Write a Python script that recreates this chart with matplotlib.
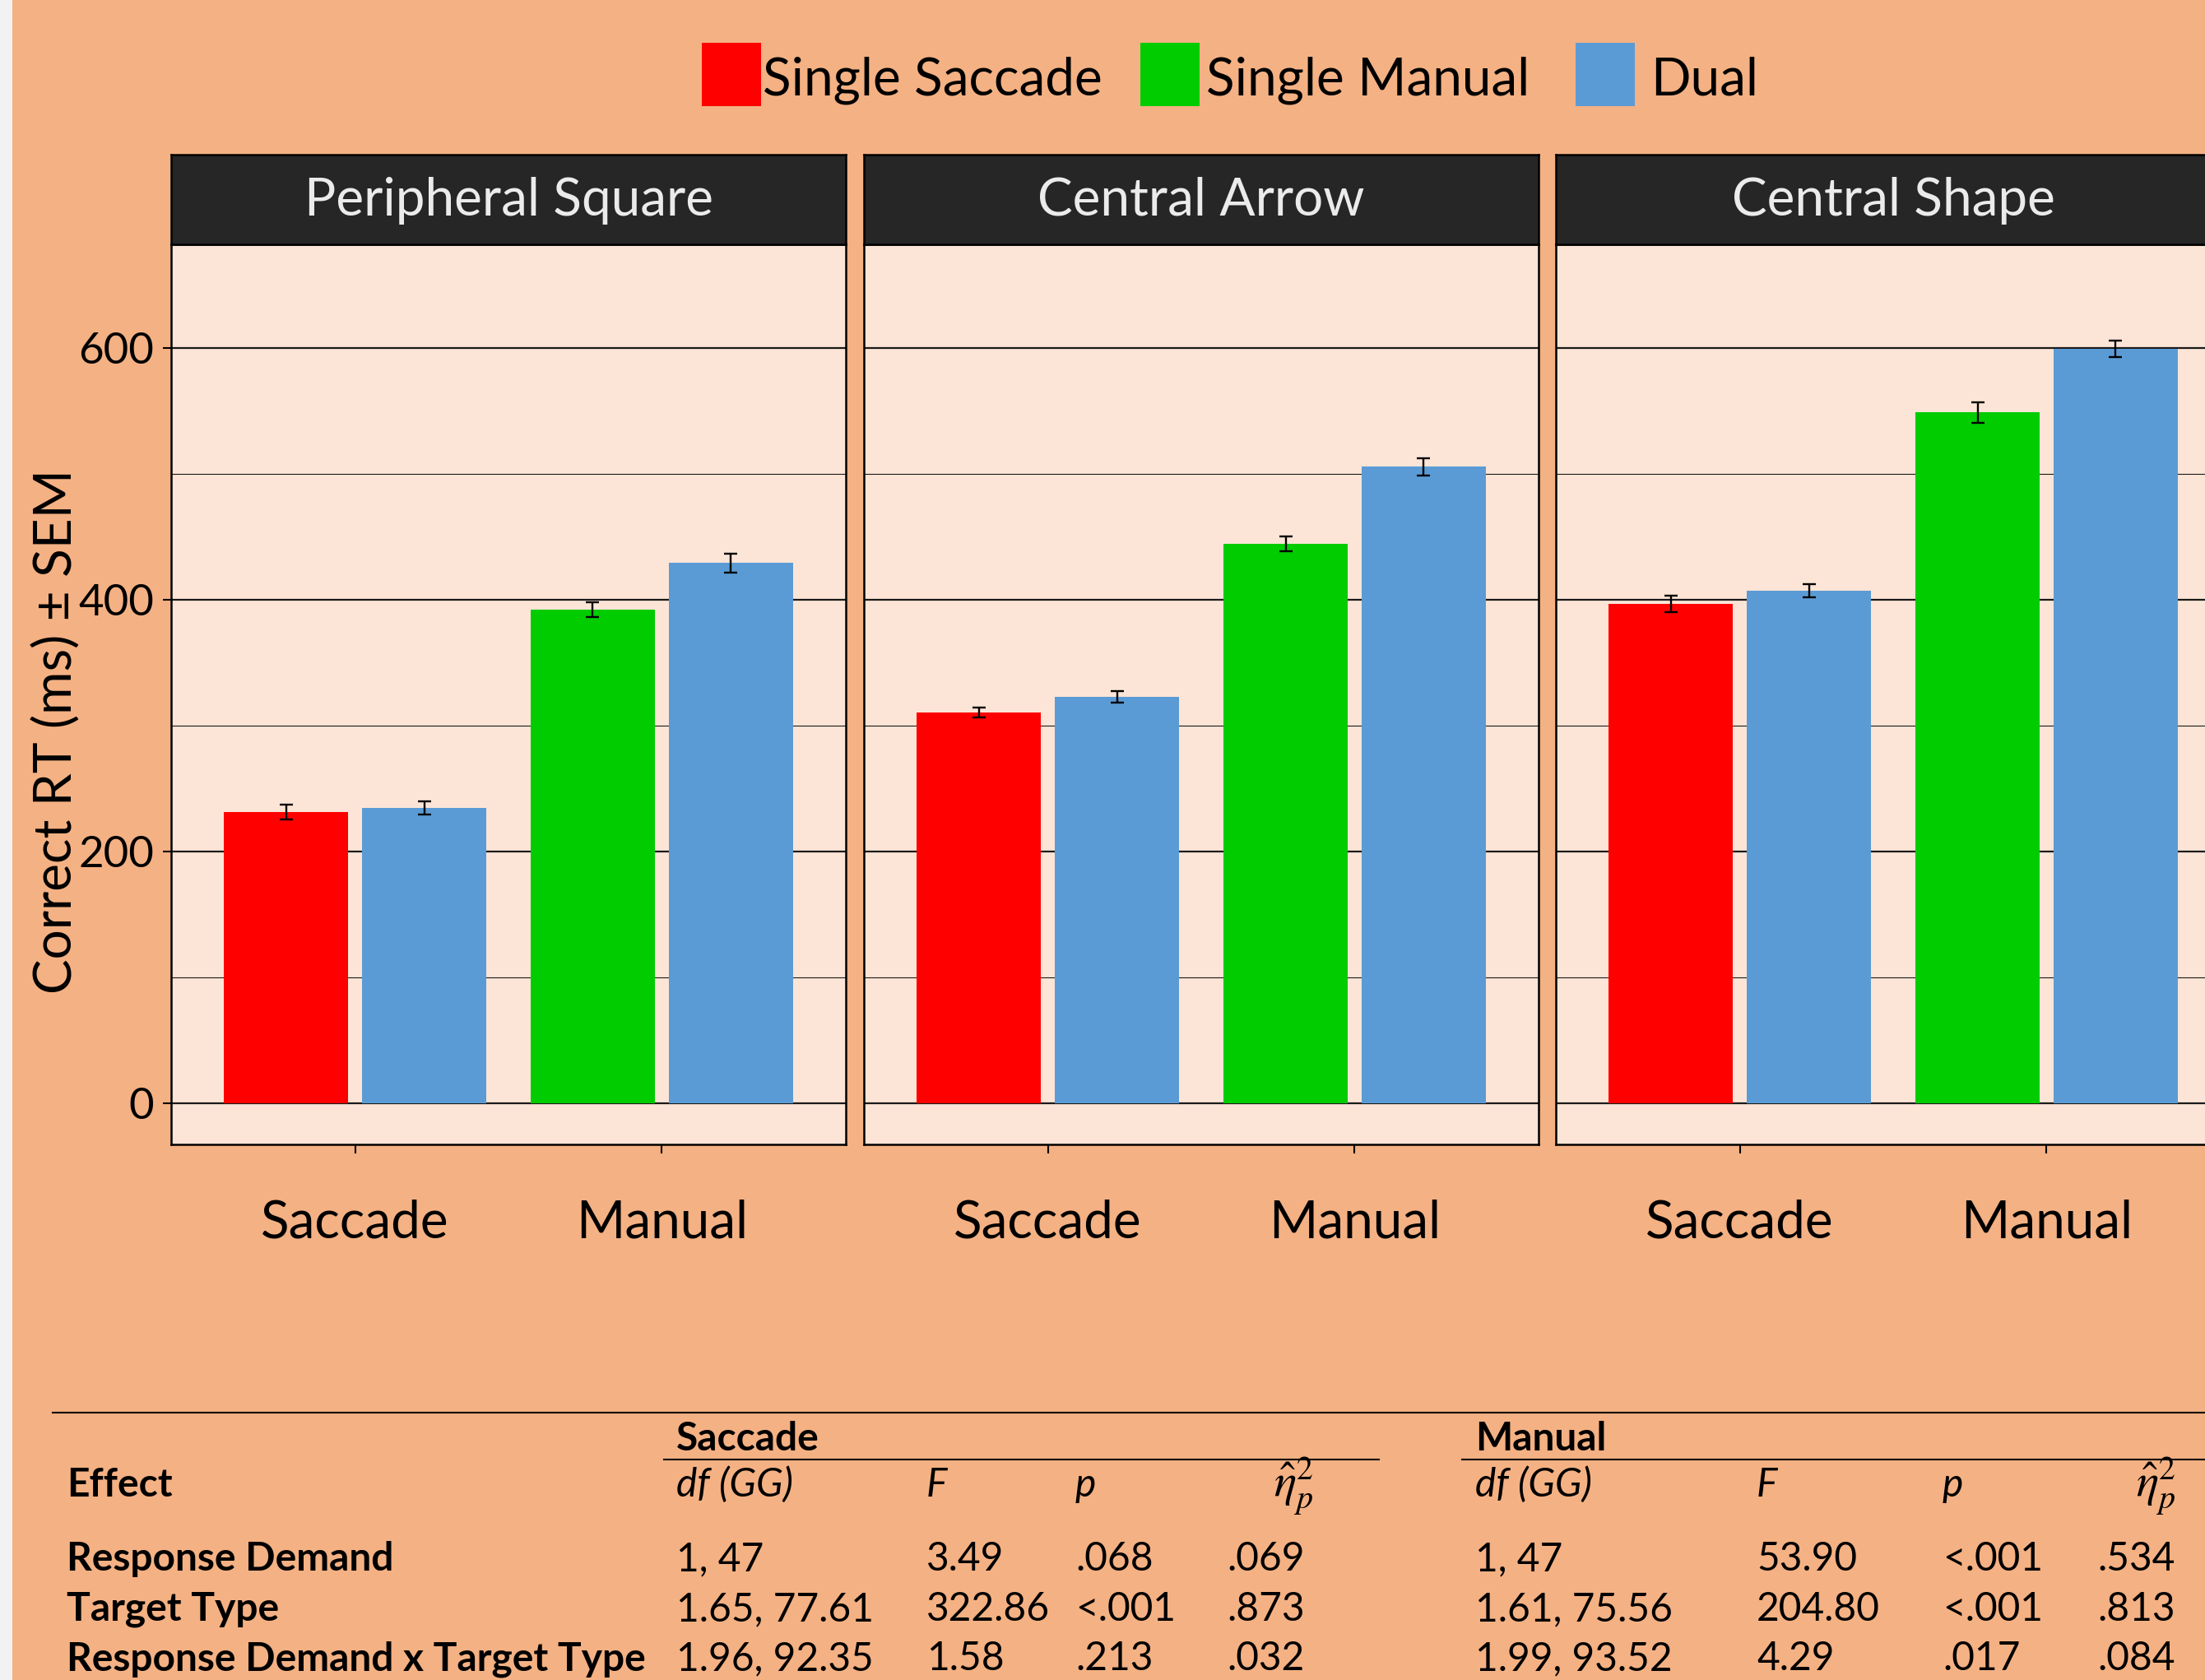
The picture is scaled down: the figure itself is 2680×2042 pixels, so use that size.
import numpy as np
import matplotlib
matplotlib.use("Agg")
import matplotlib.pyplot as plt
from matplotlib.patches import Rectangle
from matplotlib.lines import Line2D

plt.rcParams['font.family'] = ['Lato', 'DejaVu Sans']
plt.rcParams['mathtext.fontset'] = 'stix'

# reaction times (ms) and SEM per target type, order: saccade, manual
targets = ['Peripheral Square', 'Central Arrow', 'Central Shape']
responses = ['Saccade', 'Manual']
single_rt = [[231.6, 392.2], [310.6, 444.6], [396.9, 549.0]]
single_sem = [[5.7, 6.0], [3.8, 5.7], [6.5, 8.2]]
dual_rt = [[234.8, 429.4], [323.0, 505.9], [407.4, 599.3]]
dual_sem = [[5.4, 7.5], [4.5, 6.9], [5.4, 6.5]]

legend_labels = ['Single Saccade', 'Single Manual', 'Dual']
col_saccade = '#FF0000'
col_manual = '#00CC00'
col_dual = '#5B9BD5'

# ANOVA table
effects = ['Response Demand', 'Target Type', 'Response Demand x Target Type']
sac_df = ['1, 47', '1.65, 77.61', '1.96, 92.35']
sac_F = ['3.49', '322.86', '1.58']
sac_p = ['.068', '<.001', '.213']
sac_eta = ['.069', '.873', '.032']
man_df = ['1, 47', '1.61, 75.56', '1.99, 93.52']
man_F = ['53.90', '204.80', '4.29']
man_p = ['<.001', '<.001', '.017']
man_eta = ['.534', '.813', '.084']

W, H = 2680, 2042
BG = '#F4B183'
PANEL = '#FCE5D6'


def fx(px):
    return px / W


def fy(py):
    return 1 - py / H


fig = plt.figure(figsize=(W / 100, H / 100), dpi=100, facecolor=BG)
fig.add_artist(Rectangle((0, 0), fx(15), 1, transform=fig.transFigure,
                         facecolor='#F2F2F2', edgecolor='none'))

# legend
leg_cols = [col_saccade, col_manual, col_dual]
leg_box_x = [853, 1386, 1915]
leg_txt_x = [927, 1466, 2006]
for lab, c, bx, tx in zip(legend_labels, leg_cols, leg_box_x, leg_txt_x):
    fig.add_artist(Rectangle((fx(bx), fy(129)), 72 / W, 77 / H,
                             transform=fig.transFigure, facecolor=c, edgecolor='none'))
    fig.text(fx(tx), fy(115), lab, fontsize=46, ha='left', va='baseline')

panel_left = [208, 1050, 1891]
pw = 820
x = np.arange(1, 3)
off = 0.225
bw = 0.404

for i, (name, left) in enumerate(zip(targets, panel_left)):
    ax = fig.add_axes([fx(left), fy(1391), pw / W, 1094 / H])
    ax.set_facecolor(PANEL)
    ax.set_xlim(0.4, 2.6)
    ax.set_ylim(-32.5, 682.5)
    ax.set_axisbelow(True)
    ax.set_yticks([0, 200, 400, 600])
    ax.set_yticks([100, 300, 500], minor=True)
    ax.grid(which='major', axis='y', color='#1A1A1A', lw=1.6)
    ax.grid(which='minor', axis='y', color='#1A1A1A', lw=0.8)
    ax.tick_params(which='minor', length=0)

    single_cols = [col_saccade, col_manual]
    ax.bar(x - off, single_rt[i], width=bw, color=single_cols, zorder=2)
    ax.bar(x + off, dual_rt[i], width=bw, color=col_dual, zorder=2)
    ax.errorbar(x - off, single_rt[i], yerr=single_sem[i], fmt='none', ecolor='black',
                elinewidth=1.7, capsize=6, capthick=1.7, zorder=3)
    ax.errorbar(x + off, dual_rt[i], yerr=dual_sem[i], fmt='none', ecolor='black',
                elinewidth=1.7, capsize=6, capthick=1.7, zorder=3)

    ax.set_xticks(x)
    ax.set_xticklabels(responses)
    ax.tick_params(axis='x', length=8, width=1.5, pad=40, labelsize=46)
    if i == 0:
        ax.tick_params(axis='y', which='major', length=7.2, width=1.5, pad=8, labelsize=38)
    else:
        ax.tick_params(axis='y', which='major', length=0, labelleft=False)
    for s in ax.spines.values():
        s.set_linewidth(1.8)
        s.set_color('black')

    sax = fig.add_axes([fx(left), fy(297), pw / W, 109 / H])
    sax.set_facecolor('#262626')
    sax.set_xticks([])
    sax.set_yticks([])
    for s in sax.spines.values():
        s.set_linewidth(1.8)
        s.set_color('black')
    sax.text(0.5, 1 - (262 - 188) / 109, name, transform=sax.transAxes, ha='center',
             va='baseline', fontsize=46, color='#EBEBEB')

fig.text(fx(69), fy(889), 'Correct RT (ms) ± SEM', rotation=90, ha='center',
         va='center', fontsize=46)

# table
fig.add_artist(Line2D([fx(64), 1], [fy(1717), fy(1717)], color='black', lw=1.5,
                      transform=fig.transFigure))
fig.add_artist(Line2D([fx(807), fx(1676)], [fy(1774), fy(1774)], color='black', lw=1.5,
                      transform=fig.transFigure))
fig.add_artist(Line2D([fx(1777), 1], [fy(1774), fy(1774)], color='black', lw=1.5,
                      transform=fig.transFigure))

fs = 34.5
fig.text(fx(822), fy(1763), 'Saccade', fontsize=fs, weight='bold', va='baseline')
fig.text(fx(1793), fy(1763), 'Manual', fontsize=fs, weight='bold', va='baseline')
fig.text(fx(81), fy(1819), 'Effect', fontsize=fs, weight='bold', va='baseline')

head_x = [[822, 1126, 1307, 1548], [1793, 2135, 2361, 2596]]
for hx in head_x:
    fig.text(fx(hx[0]), fy(1819), 'df (GG)', fontsize=fs, style='italic', va='baseline')
    fig.text(fx(hx[1]), fy(1819), 'F', fontsize=fs, style='italic', va='baseline')
    fig.text(fx(hx[2]), fy(1819), 'p', fontsize=fs, style='italic', va='baseline')
    fig.text(fx(hx[3]), fy(1819), r'$\hat{\eta}_{p}^{2}$', fontsize=41, va='baseline')

row_y = [1909, 1970, 2030]
val_x = [[822, 1126, 1307, 1491], [1793, 2135, 2361, 2549]]
for r, ry in enumerate(row_y):
    fig.text(fx(81), fy(ry), effects[r], fontsize=fs, weight='bold', va='baseline')
    for vx, cols in zip(val_x, [[sac_df, sac_F, sac_p, sac_eta],
                                [man_df, man_F, man_p, man_eta]]):
        for cx, col in zip(vx, cols):
            fig.text(fx(cx), fy(ry), col[r], fontsize=fs, va='baseline')

fig.savefig('out.png', dpi=100, facecolor=BG)
